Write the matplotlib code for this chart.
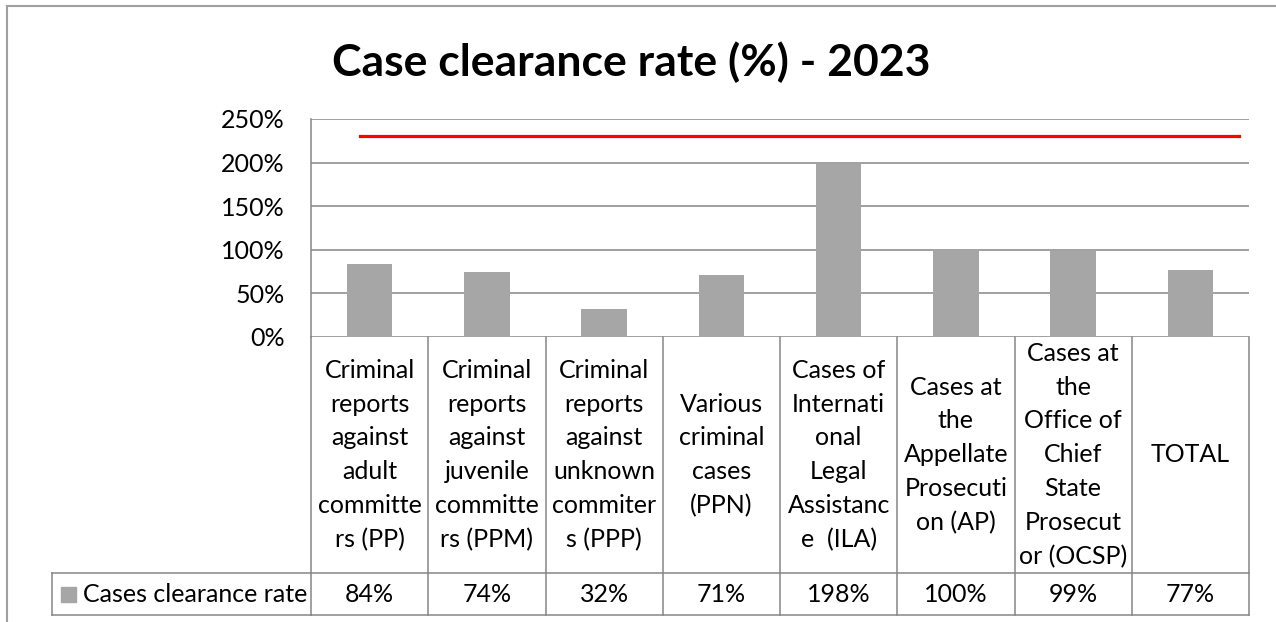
#import
import matplotlib
matplotlib.use("Agg")
import matplotlib.pyplot as plt
import matplotlib.transforms as mtransforms
from matplotlib.patches import Rectangle
from matplotlib.lines import Line2D

#data
categories = [
    "Criminal\nreports\nagainst\nadult\ncommitte\nrs (PP)",
    "Criminal\nreports\nagainst\njuvenile\ncommitte\nrs (PPM)",
    "Criminal\nreports\nagainst\nunknown\ncommiter\ns (PPP)",
    "Various\ncriminal\ncases\n(PPN)",
    "Cases of\nInternati\nonal\nLegal\nAssistanc\ne  (ILA)",
    "Cases at\nthe\nAppellate\nProsecuti\non (AP)",
    "Cases at\nthe\nOffice of\nChief\nState\nProsecut\nor (OCSP)",
    "TOTAL",
]
clearanceRate = [84, 74, 32, 71, 198, 100, 99, 77]
targetLine = 230
seriesName = "Cases clearance rate"
yTicks = [0, 50, 100, 150, 200, 250]

#style
barColor = "#A6A6A6"
gridColor = "#868686"
fontName = ["Lato", "DejaVu Sans"]
plt.rcParams["font.family"] = fontName
fs = 18

W, H = 1276, 622
fig = plt.figure(figsize=(W / 100, H / 100), dpi=100)

# plot area in pixels (left, top, right, bottom)
pl, pt, pr, pb = 311, 119, 1249, 337
ax = fig.add_axes([pl / W, 1 - pb / H, (pr - pl) / W, (pb - pt) / H])

x = list(range(len(categories)))
ax.bar(x, clearanceRate, width=0.39, color=barColor, zorder=3)
ax.axhline(targetLine, xmin=0.052, xmax=0.989, color="#FF0000", linewidth=2.3, zorder=4)

ax.set_xlim(-0.5, len(categories) - 0.5)
ax.set_ylim(0, 250)
ax.set_yticks(yTicks)
ax.set_yticklabels([str(t) + "%" for t in yTicks], fontsize=fs)
ax.tick_params(axis="y", length=0, pad=19, colors="black")
ax.set_xticks([])
ax.grid(axis="y", color=gridColor, linewidth=1.1, zorder=0)
for s in ["top", "right", "bottom"]:
    ax.spines[s].set_visible(False)
ax.spines["left"].set_color(gridColor)
ax.spines["left"].set_linewidth(1.1)

#data table under the axis
axH = pb - pt
headBottom = -(573 - pb) / axH
rowBottom = -(615 - pb) / axH
trans = mtransforms.blended_transform_factory(ax.transData, ax.transAxes)
lineKw = dict(color=gridColor, linewidth=1.1, transform=trans, clip_on=False)

n = len(categories)
for i in range(n + 1):
    ax.add_line(Line2D([i - 0.5, i - 0.5], [0, rowBottom], **lineKw))
ax.add_line(Line2D([-0.5, n - 0.5], [headBottom, headBottom], **lineKw))
ax.add_line(Line2D([-0.5, n - 0.5], [rowBottom, rowBottom], **lineKw))

for i, (cat, val) in enumerate(zip(categories, clearanceRate)):
    ax.text(i, headBottom / 2, cat, transform=trans, ha="center", va="center",
            multialignment="center", fontsize=fs, linespacing=1.57, clip_on=False)
    ax.text(i, (headBottom + rowBottom) / 2, str(val) + "%", transform=trans,
            ha="center", va="center", fontsize=fs, clip_on=False)

# legend cell at the left of the value row
figTrans = fig.transFigure
lx = 52 / W
yTop = 1 - 573 / H
yBot = 1 - 615 / H
for xs, ys in [([lx, pl / W], [yTop, yTop]), ([lx, pl / W], [yBot, yBot]), ([lx, lx], [yTop, yBot])]:
    fig.add_artist(Line2D(xs, ys, color=gridColor, linewidth=1.1, transform=figTrans))
fig.add_artist(Rectangle((61 / W, 1 - 602 / H), 15 / W, 15 / H, color=barColor, transform=figTrans))
fig.text(83 / W, (yTop + yBot) / 2, seriesName, ha="left", va="center", fontsize=fs)

#title
fig.text(0.495, 1 - 62 / H, "Case clearance rate (%) - 2023", ha="center", va="center",
         fontsize=32, fontweight="bold")

# chart border
fig.add_artist(Line2D([7 / W, 1], [1 - 6 / H, 1 - 6 / H], color="#A0A0A0", linewidth=1.5, transform=figTrans))
fig.add_artist(Line2D([7 / W, 7 / W], [1 - 6 / H, 0], color="#A0A0A0", linewidth=1.5, transform=figTrans))

fig.savefig("out.png", dpi=100, facecolor="white")
